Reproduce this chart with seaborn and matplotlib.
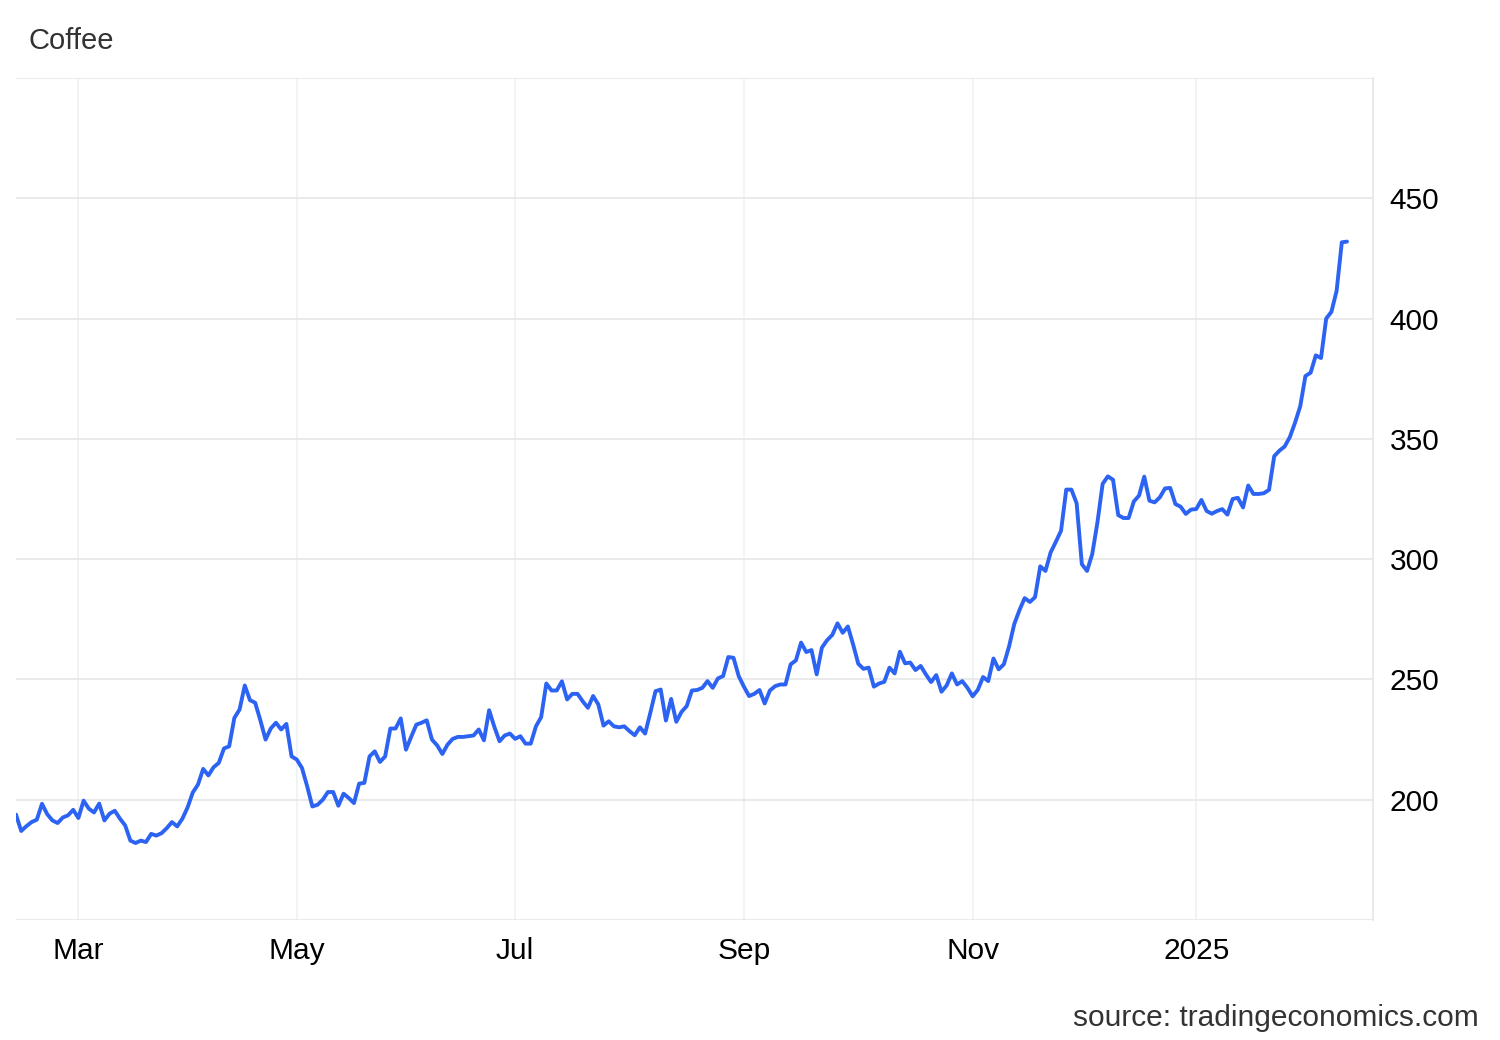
import matplotlib
matplotlib.use("Agg")
import matplotlib.pyplot as plt
import seaborn as sns
import pandas as pd
import numpy as np

# --- données ---
START = "2024-02-13"
HOLIDAYS = ["2024-02-19", "2024-03-29", "2024-05-27", "2024-07-04"]

price = [
    193.8, 187.0, 189.0, 190.7, 191.7, 198.3, 194.0, 191.4, 190.3, 192.6,
    193.5, 195.8, 192.4, 199.6, 196.3, 194.7, 198.4, 191.4, 194.2, 195.4,
    192.1, 189.3, 183.0, 182.0, 183.0, 182.4, 185.8, 185.1, 186.1, 188.2,
    190.7, 188.9, 192.1, 196.8, 203.0, 206.3, 212.8, 210.1, 213.5, 215.3,
    221.3, 222.2, 234.0, 237.5, 247.5, 241.4, 240.3, 233.0, 225.0, 229.6,
    232.0, 229.2, 231.5, 218.0, 216.7, 213.2, 205.6, 197.2, 197.9, 200.0,
    203.2, 203.2, 197.5, 202.5, 200.7, 198.6, 206.7, 207.0, 218.0, 220.1,
    215.7, 218.0, 229.6, 229.6, 233.8, 220.8, 226.1, 231.2, 232.0, 233.0,
    225.0, 222.6, 219.0, 222.9, 225.3, 226.1, 226.1, 226.4, 226.7, 229.2,
    224.7, 237.2, 230.3, 224.3, 226.7, 227.5, 225.3, 226.4, 223.3, 223.3,
    230.5, 234.3, 248.3, 245.4, 245.4, 249.2, 241.7, 244.0, 244.0, 240.9,
    238.2, 243.1, 239.6, 230.8, 232.6, 230.5, 230.1, 230.5, 228.5, 226.8,
    230.1, 227.5, 236.1, 245.1, 245.8, 232.9, 241.9, 232.4, 236.5, 238.9,
    245.4, 245.6, 246.5, 249.3, 246.5, 250.4, 251.4, 259.3, 259.0, 251.4,
    247.0, 243.1, 244.0, 245.6, 240.0, 245.4, 247.2, 247.9, 247.9, 256.3,
    257.9, 265.3, 261.4, 262.2, 252.1, 263.2, 266.3, 268.5, 273.3, 269.4,
    272.0, 264.6, 256.5, 254.4, 254.9, 247.0, 248.3, 249.0, 254.9, 252.5,
    261.5, 256.7, 257.0, 253.9, 255.6, 252.1, 248.9, 251.8, 244.9, 247.5,
    252.5, 247.9, 249.3, 246.5, 243.0, 245.7, 251.0, 249.3, 258.7, 254.2,
    256.3, 263.7, 273.0, 278.8, 283.8, 282.2, 284.2, 297.0, 295.1, 302.8,
    307.2, 311.8, 328.9, 328.9, 323.2, 297.9, 295.1, 302.1, 315.3, 331.3,
    334.4, 333.0, 318.3, 317.1, 317.1, 324.0, 326.4, 334.3, 324.3, 323.6,
    325.7, 329.4, 329.6, 322.9, 321.8, 318.8, 320.6, 320.8, 324.6, 320.0,
    318.9, 320.0, 320.8, 318.5, 325.0, 325.5, 321.5, 330.6, 327.1, 327.1,
    327.4, 328.8, 342.8, 345.1, 346.8, 350.7, 356.7, 363.5, 376.1, 377.5,
    384.7, 383.6, 400.0, 402.8, 411.5, 431.7, 432.0,
]

tick_months = ["2024-03-01", "2024-05-01", "2024-07-01", "2024-09-01", "2024-11-01", "2025-01-01"]
tick_labels = ["Mar", "May", "Jul", "Sep", "Nov", "2025"]
y_ticks = [150, 200, 250, 300, 350, 400, 450, 500]

# axe ordinal : un point par séance
dates = pd.bdate_range(start=START, periods=len(price), freq="C", holidays=HOLIDAYS)
df = pd.DataFrame({"date": dates, "pos": np.arange(len(price)), "price": price})
tick_pos = [int(np.argmax(df["date"] >= pd.Timestamp(m))) for m in tick_months]

sns.set_style("white")
plt.rcParams["font.family"] = ["Liberation Sans", "DejaVu Sans"]

fig = plt.figure(figsize=(15, 10.4), dpi=100)
ax = fig.add_axes([16 / 1500, 1 - 920 / 1040, (1373 - 16) / 1500, (920 - 78) / 1040])

sns.lineplot(data=df, x="pos", y="price", ax=ax, color="#2c63f2", linewidth=2.8)

ax.set_xlim(0, 261)
ax.set_ylim(150, 500)
ax.set_xticks(tick_pos)
ax.set_xticklabels(tick_labels)
ax.set_yticks(y_ticks)
ax.set_yticklabels(["" if v in (150, 500) else str(v) for v in y_ticks])
ax.yaxis.tick_right()
ax.tick_params(axis="both", length=0, labelsize=21.5, colors="#000000")
ax.tick_params(axis="x", pad=12)
ax.tick_params(axis="y", pad=12)
ax.set_xlabel("")
ax.set_ylabel("")

ax.grid(axis="y", color="#e6e6e6", linewidth=1.2)
ax.grid(axis="x", color="#edf2f5", linewidth=1.2)
ax.set_axisbelow(True)
for side in ["top", "left", "bottom"]:
    ax.spines[side].set_visible(False)
ax.spines["right"].set_color("#e6e6e6")
ax.spines["right"].set_linewidth(1.2)

fig.text(29 / 1500, 1 - 41 / 1040, "Coffee", fontsize=21, color="#333333", va="center")
fig.text(1479 / 1500, 1 - 1018 / 1040, "source: tradingeconomics.com", fontsize=21.5,
         color="#333333", ha="right", va="center")

fig.savefig("out.png", dpi=100, facecolor="white")
plt.close(fig)
